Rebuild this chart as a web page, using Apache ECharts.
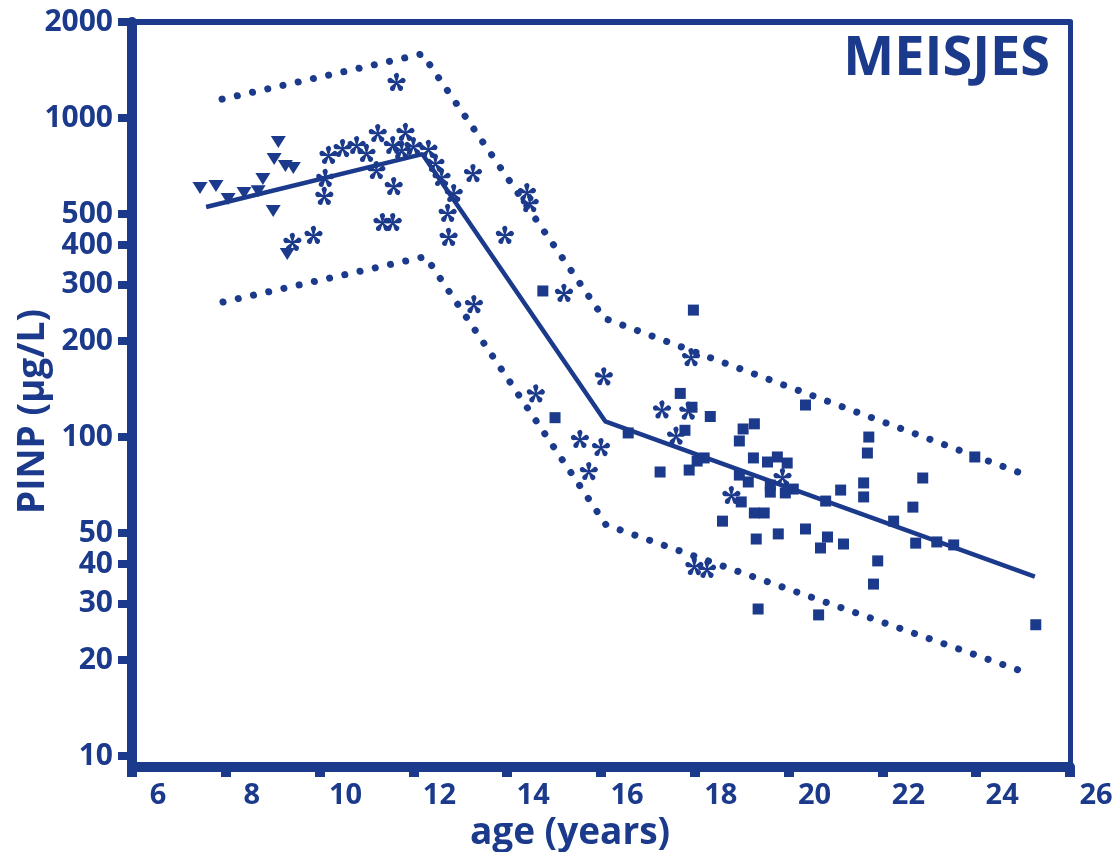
<!DOCTYPE html>
<html>
<head>
<meta charset="utf-8">
<script src="https://cdn.jsdelivr.net/npm/echarts@6/dist/echarts.min.js"></script>
<style>
  html, body { margin: 0; padding: 0; background: #fff; }
  #chart { width: 1119px; height: 852px; }
</style>
</head>
<body>
<div id="chart"></div>
<script>
var chart = echarts.init(document.getElementById('chart'));

// data: [age (years), PINP (ug/L)]
const yTickValues = [10, 20, 30, 40, 50, 100, 200, 300, 400, 500, 1000, 2000];
const yMinValue = 9.24;
const yMaxValue = 2000;

const trianglePts = [
  [7.45, 603], [7.79, 612], [8.05, 557], [8.39, 582], [8.69, 590], [8.79, 644],
  [9.01, 511], [9.03, 744], [9.12, 841], [9.27, 707], [9.44, 697], [9.31, 375]
];

const asteriskPts = [
  [11.64, 1297], [10.19, 766], [10.49, 805], [10.79, 823], [11.0, 777], [11.24, 897],
  [11.56, 823], [11.83, 904], [11.75, 794], [12.0, 817], [12.32, 800], [11.21, 687],
  [10.12, 649], [10.10, 570], [11.58, 612], [11.34, 472], [11.56, 472], [9.42, 409],
  [9.87, 430], [12.47, 723], [12.60, 653], [12.86, 582], [12.73, 504], [12.75, 424],
  [13.27, 672], [13.95, 430], [14.42, 586], [14.48, 541], [15.21, 283], [13.29, 261],
  [16.06, 155], [14.61, 137], [15.55, 98.6], [16.0, 93.0], [15.74, 78.2], [17.92, 178],
  [17.30, 122], [17.86, 121], [17.60, 101], [18.78, 65.8], [19.87, 74.9], [17.99, 39.4],
  [18.26, 38.6]
];

const squarePts = [
  [14.76, 287], [15.02, 115], [16.58, 103], [17.97, 250], [17.69, 137], [17.94, 124],
  [18.33, 116], [17.79, 105], [19.03, 106], [19.27, 110], [18.95, 97.2], [20.36, 126],
  [21.71, 100], [21.68, 89.1], [18.05, 84.1], [18.20, 86.0], [17.88, 78.8], [17.26, 77.7],
  [19.25, 86.0], [19.55, 83.5], [19.76, 86.6], [19.97, 82.9], [18.95, 76.0], [19.14, 72.3],
  [19.61, 70.7], [19.61, 67.2], [19.93, 66.8], [20.10, 68.7], [20.79, 63.0], [21.11, 68.2],
  [21.60, 71.8], [21.60, 64.9], [18.99, 62.6], [19.27, 57.8], [19.48, 57.8], [18.59, 54.5],
  [20.36, 51.5], [19.78, 49.7], [19.31, 47.9], [20.83, 48.6], [20.68, 44.9], [21.17, 46.2],
  [21.90, 40.9], [21.81, 34.6], [22.86, 74.4], [23.97, 86.6], [22.65, 60.3], [22.24, 54.5],
  [22.71, 46.5], [23.16, 46.9], [23.52, 45.9], [19.35, 28.9], [20.64, 27.7], [25.27, 25.8]
];

const medianLine = [[7.58, 526], [12.19, 771], [16.09, 112], [25.25, 36.5]];
const upperLine = [[7.92, 1146], [12.19, 1588], [16.06, 236], [24.95, 77.1]];
const lowerLine = [[7.94, 265], [12.26, 368], [16.11, 53.0], [24.95, 18.5]];

const C = '#1b3a8b';
const FONT = 'Open Sans';

// y is drawn on a log10 scale
function toLog(pts) {
  return pts.map(function (p) { return [p[0], Math.log10(p[1])]; });
}

// five-petal asterisk symbol
function asteriskPath() {
  var parts = [];
  for (var k = 0; k < 5; k++) {
    var a = k * 72 * Math.PI / 180;
    var c = Math.cos(a), s = Math.sin(a);
    var p = function (x, y) {
      return (50 + x * c - y * s).toFixed(2) + ' ' + (50 + x * s + y * c).toFixed(2);
    };
    parts.push('M' + p(-2.5, 0) + ' L' + p(-11, -27) + ' A13 13 0 1 1 ' + p(11, -27) + ' L' + p(2.5, 0) + ' Z');
  }
  return 'path://' + parts.join(' ');
}

const yLogTicks = yTickValues.map(Math.log10);
const yMin = Math.log10(yMinValue);
const yMax = Math.log10(yMaxValue);

const dotted = { color: C, width: 7, type: [0.1, 15.5], cap: 'round' };

const option = {
  animation: false,
  title: {
    text: 'MEISJES',
    right: 64,
    top: 28,
    textStyle: { color: C, fontFamily: FONT, fontWeight: 'bold', fontSize: 54 }
  },
  grid: { left: 132, right: 49, top: 22, bottom: 85, outerBoundsMode: 'none' },
  xAxis: [{
    type: 'value', min: 6, max: 26, interval: 2, position: 'bottom',
    axisLine: { show: true, onZero: false, lineStyle: { color: C, width: 10 } },
    axisTick: { show: true, length: 10, lineStyle: { color: C, width: 10 } },
    axisLabel: {
      color: C, fontFamily: FONT, fontWeight: 'bold', fontSize: 29,
      margin: 14, padding: [0, 0, 0, 52]
    },
    splitLine: { show: false },
    name: 'age (years)', nameLocation: 'middle', nameGap: 48,
    nameTextStyle: { color: C, fontFamily: FONT, fontWeight: 'bold', fontSize: 37, padding: [0, 62, 0, 0] }
  }, {
    type: 'value', min: 6, max: 26, position: 'top',
    axisLine: { show: true, onZero: false, lineStyle: { color: C, width: 6 } },
    axisTick: { show: false }, axisLabel: { show: false }, splitLine: { show: false }
  }],
  yAxis: [{
    type: 'value', min: yMin, max: yMax, position: 'left',
    axisLine: { show: true, onZero: false, lineStyle: { color: C, width: 10 } },
    axisTick: { show: true, length: 14, customValues: yLogTicks, lineStyle: { color: C, width: 8 } },
    axisLabel: {
      customValues: yLogTicks,
      formatter: function (v) { return String(Math.round(Math.pow(10, v))); },
      color: C, fontFamily: FONT, fontWeight: 'bold', fontSize: 30, margin: 19
    },
    splitLine: { show: false },
    name: 'PINP (µg/L)', nameLocation: 'middle', nameGap: 80, nameRotate: 90,
    nameMoveOverlap: false,
    nameTextStyle: { color: C, fontFamily: FONT, fontWeight: 'bold', fontSize: 37, padding: [0, 34, 0, 0] }
  }, {
    type: 'value', min: yMin, max: yMax, position: 'right',
    axisLine: { show: true, onZero: false, lineStyle: { color: C, width: 5 } },
    axisTick: { show: false }, axisLabel: { show: false }, splitLine: { show: false }
  }],
  series: [{
    type: 'scatter', data: toLog(trianglePts),
    symbol: 'triangle', symbolRotate: 180, symbolSize: [15, 12],
    itemStyle: { color: C, opacity: 1 }
  }, {
    type: 'scatter', data: toLog(asteriskPts),
    symbol: asteriskPath(), symbolSize: [18, 18],
    itemStyle: { color: C, opacity: 1 }
  }, {
    type: 'scatter', data: toLog(squarePts),
    symbol: 'rect', symbolSize: 11,
    itemStyle: { color: C, opacity: 1 }
  }, {
    type: 'line', data: toLog(medianLine), symbol: 'none',
    lineStyle: { color: C, width: 4.5 }
  }, {
    type: 'line', data: toLog(upperLine), symbol: 'none', lineStyle: dotted
  }, {
    type: 'line', data: toLog(lowerLine), symbol: 'none', lineStyle: dotted
  }]
};

chart.setOption(option);
</script>
</body>
</html>
